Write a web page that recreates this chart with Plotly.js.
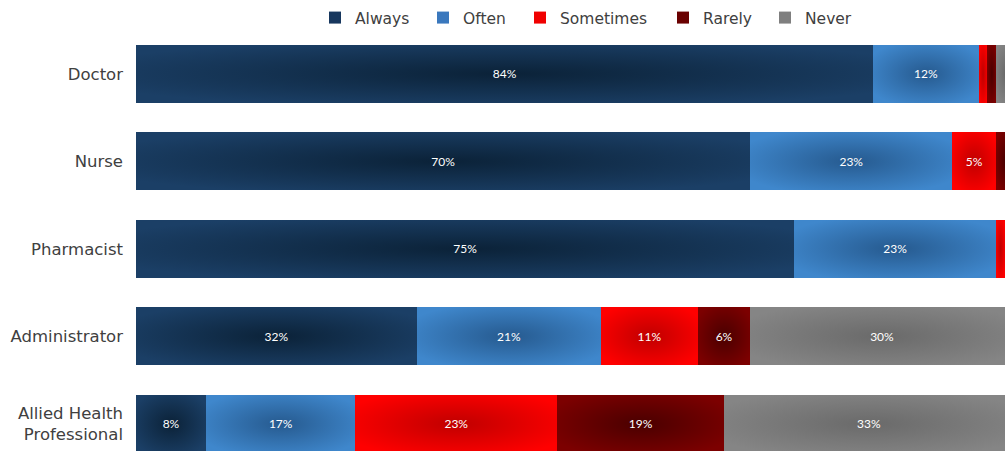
<!DOCTYPE html>
<html>
<head>
<meta charset="utf-8">
<script src="https://cdn.plot.ly/plotly-3.0.1.min.js"></script>
<style>html,body{margin:0;padding:0;background:#fff;}#chart{width:1005px;height:451px;}</style>
</head>
<body>
<div id="chart"></div>
<script>
const categories = ["Doctor", "Nurse", "Pharmacist", "Administrator", "Allied Health<br>Professional"];
const seriesNames = ["Always", "Often", "Sometimes", "Rarely", "Never"];
const always    = [84, 70, 75, 32, 8];
const often     = [12, 23, 23, 21, 17];
const sometimes = [1, 5, 1, 11, 23];
const rarely    = [1, 2, 1, 6, 19];
const never     = [2, 0, 0, 30, 33];
const seriesValues = [always, often, sometimes, rarely, never];
const edgeColors   = ["#1b3f66", "#3f87cc", "#ff0000", "#7c0000", "#858585"];
const centerColors = ["#0b2238", "#265a8f", "#c00000", "#4a0000", "#6a6a6a"];
const solidColors  = ["#17375e", "#3a78bd", "#f00000", "#6a0000", "#7f7f7f"];
// legend text start positions (container pixels) for each series
const legendTextX = [355, 463, 560, 703, 805];

const FONT = "'DejaVu Sans', 'Open Sans', sans-serif";

const traces = seriesNames.map((name, i) => ({
  type: "bar",
  orientation: "h",
  name: name,
  legend: i === 0 ? "legend" : "legend" + (i + 1),
  y: categories,
  x: seriesValues[i],
  text: seriesValues[i].map(v => v >= 4 ? v + "%" : ""),
  textposition: "inside",
  insidetextanchor: "middle",
  textangle: 0,
  constraintext: "none",
  textfont: {family: "Lato, 'Open Sans', sans-serif", size: 12, color: "#ffffff"},
  marker: {color: solidColors[i], line: {width: 0}},
  hoverinfo: "skip"
}));

const layout = {
  width: 1005,
  height: 451,
  barmode: "stack",
  bargap: 0.337,
  margin: {l: 136, r: 0, t: 30, b: 0, pad: 0, autoexpand: false},
  paper_bgcolor: "#ffffff",
  plot_bgcolor: "#ffffff",
  font: {family: FONT, size: 16, color: "#404040"},
  showlegend: true,
  xaxis: {range: [0, 99], visible: false, fixedrange: true},
  yaxis: {
    type: "category",
    categoryorder: "array",
    categoryarray: categories,
    range: [4.31, -0.5],
    showgrid: false,
    zeroline: false,
    showline: false,
    ticks: "",
    ticklabelstandoff: 12,
    tickfont: {family: FONT, size: 16.5, color: "#404040"}
  }
};
seriesNames.forEach((n, i) => {
  const key = i === 0 ? "legend" : "legend" + (i + 1);
  layout[key] = {
    orientation: "h",
    xref: "container",
    yref: "container",
    x: (legendTextX[i] - 40) / 1005,
    xanchor: "left",
    y: 1 - 18 / 451,
    yanchor: "middle",
    bgcolor: "rgba(0,0,0,0)",
    font: {family: FONT, size: 15.5, color: "#404040"},
    itemwidth: 30
  };
});

Plotly.newPlot("chart", traces, layout, {staticPlot: true, displayModeBar: false}).then(gd => {
  // radial gradients on each bar segment to mimic the shaded fills
  const svg = gd.querySelector("svg.main-svg");
  const ns = "http://www.w3.org/2000/svg";
  let defs = svg.querySelector("defs");
  if (!defs) { defs = document.createElementNS(ns, "defs"); svg.insertBefore(defs, svg.firstChild); }
  seriesNames.forEach((n, i) => {
    const g = document.createElementNS(ns, "radialGradient");
    g.setAttribute("id", "grad" + i);
    g.setAttribute("cx", "0.5"); g.setAttribute("cy", "0.5"); g.setAttribute("r", "0.6");
    const s1 = document.createElementNS(ns, "stop");
    s1.setAttribute("offset", "0"); s1.setAttribute("stop-color", centerColors[i]);
    const s2 = document.createElementNS(ns, "stop");
    s2.setAttribute("offset", "1"); s2.setAttribute("stop-color", edgeColors[i]);
    g.appendChild(s1); g.appendChild(s2);
    defs.appendChild(g);
  });
  gd.querySelectorAll(".barlayer .trace.bars").forEach((t, i) => {
    t.querySelectorAll(".point path").forEach(p => {
      p.style.fill = "url(#grad" + i + ")";
    });
  });
});
</script>
</body>
</html>
